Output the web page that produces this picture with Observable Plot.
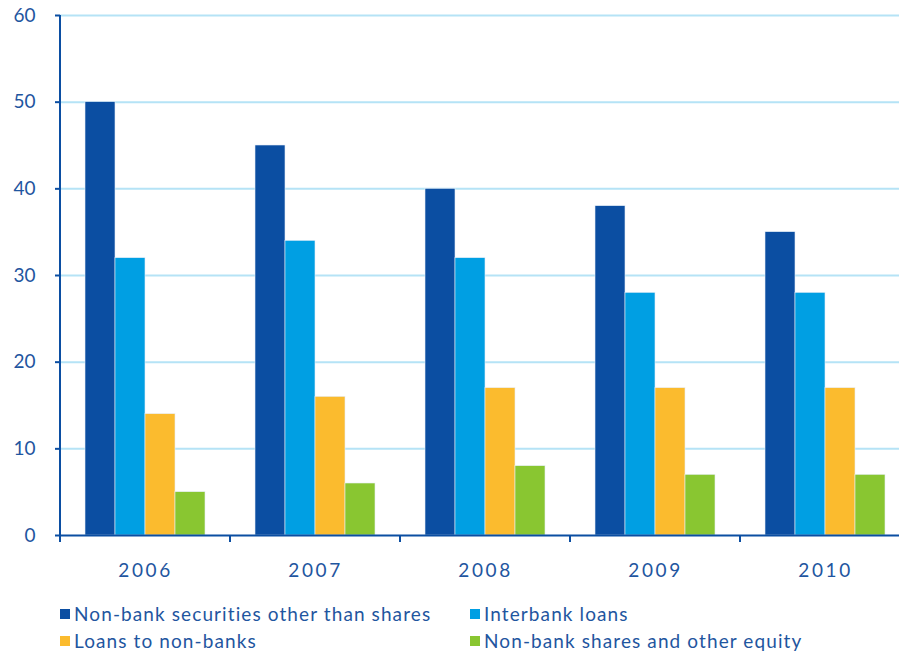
<!DOCTYPE html>
<html>
<head>
<meta charset="utf-8">
<script src="https://cdn.jsdelivr.net/npm/d3@7"></script>
<script src="https://cdn.jsdelivr.net/npm/@observablehq/plot@0.6"></script>
<style>
  html, body { margin: 0; padding: 0; background: #fff; }
  #chart { width: 899px; font-family: Lato, "Open Sans", sans-serif; color: #1f56a0; }
  .legend { display: grid; grid-template-columns: 410px 420px; padding-left: 60px; row-gap: 6px; margin-top: 13px; }
  .legend .item { display: flex; align-items: center; font-size: 19px; line-height: 21px; letter-spacing: 1.1px; white-space: nowrap; }
  .legend .sw { width: 10px; height: 10px; margin-right: 4px; flex: none; }
  g[aria-label="fx-axis tick label"] text { letter-spacing: 2.6px; }
</style>
</head>
<body>
<div id="chart"></div>
<script>
// Years on the horizontal axis
const years = ["2006", "2007", "2008", "2009", "2010"];
// Series names, in bar order within each year
const seriesNames = [
  "Non-bank securities other than shares",
  "Interbank loans",
  "Loans to non-banks",
  "Non-bank shares and other equity"
];
const seriesColors = ["#0b4ea2", "#009fe3", "#fbbb2e", "#89c631"];
// Values per series, one per year
const securities = [50, 45, 40, 38, 35];
const interbank = [32, 34, 32, 28, 28];
const loansNonBanks = [14, 16, 17, 17, 17];
const sharesEquity = [5, 6, 8, 7, 7];
const yTicks = [0, 10, 20, 30, 40, 50, 60];

const seriesValues = [securities, interbank, loansNonBanks, sharesEquity];
const rows = [];
seriesNames.forEach((s, i) => years.forEach((y, j) => rows.push({year: y, series: s, value: seriesValues[i][j]})));

const axisBlue = "#0b4ea2";
const textBlue = "#1f56a0";

const chart = Plot.plot({
  width: 899,
  height: 590,
  marginTop: 15,
  marginBottom: 55,
  marginLeft: 60,
  marginRight: 0,
  style: {fontFamily: "Lato, 'Open Sans', sans-serif", fontSize: "18px", color: textBlue, background: "#fff"},
  fx: {domain: years, range: [60, 910], padding: 0, label: null},
  x: {domain: seriesNames, paddingInner: 0, paddingOuter: 0.78, axis: null},
  y: {domain: [0, 60], ticks: yTicks, label: null},
  color: {domain: seriesNames, range: seriesColors},
  marks: [
    Plot.gridY(yTicks.filter(d => d > 0), {stroke: "#b5e3f6", strokeOpacity: 1, strokeWidth: 2}),
    Plot.barY(rows, {fx: "year", x: "series", y: "value", fill: "series", stroke: "#e6eef7", strokeWidth: 0.6}),
    Plot.ruleY([0], {stroke: axisBlue, strokeWidth: 2}),
    Plot.axisY(yTicks, {anchor: "left", tickSize: 5, tickPadding: 20, stroke: axisBlue, strokeWidth: 2, fill: textBlue, fontSize: 19, label: null}),
    Plot.axisFx({anchor: "bottom", tickSize: 0, tickPadding: 28, fill: textBlue, fontSize: 19, label: null})
  ]
});

// Axis line on the left and the group-boundary ticks along the bottom, placed from the chart's scales
const svg = d3.select(chart);
const fx = chart.scale("fx");
const y = chart.scale("y");
const y0 = y.apply(0), yTop = y.apply(60);
svg.append("line")
  .attr("x1", 60).attr("x2", 60).attr("y1", yTop).attr("y2", y0 + 7)
  .attr("stroke", axisBlue).attr("stroke-width", 2);
years.forEach(yr => {
  const xs = fx.apply(yr);
  svg.append("line")
    .attr("x1", xs).attr("x2", xs).attr("y1", y0).attr("y2", y0 + 7)
    .attr("stroke", axisBlue).attr("stroke-width", 2);
});

const root = document.getElementById("chart");
root.appendChild(chart);

// Legend in two columns below the chart
const legend = document.createElement("div");
legend.className = "legend";
[0, 1, 2, 3].forEach(i => {
  const item = document.createElement("div");
  item.className = "item";
  const sw = document.createElement("span");
  sw.className = "sw";
  sw.style.background = seriesColors[i];
  item.appendChild(sw);
  item.appendChild(document.createTextNode(seriesNames[i]));
  legend.appendChild(item);
});
root.appendChild(legend);
</script>
</body>
</html>
